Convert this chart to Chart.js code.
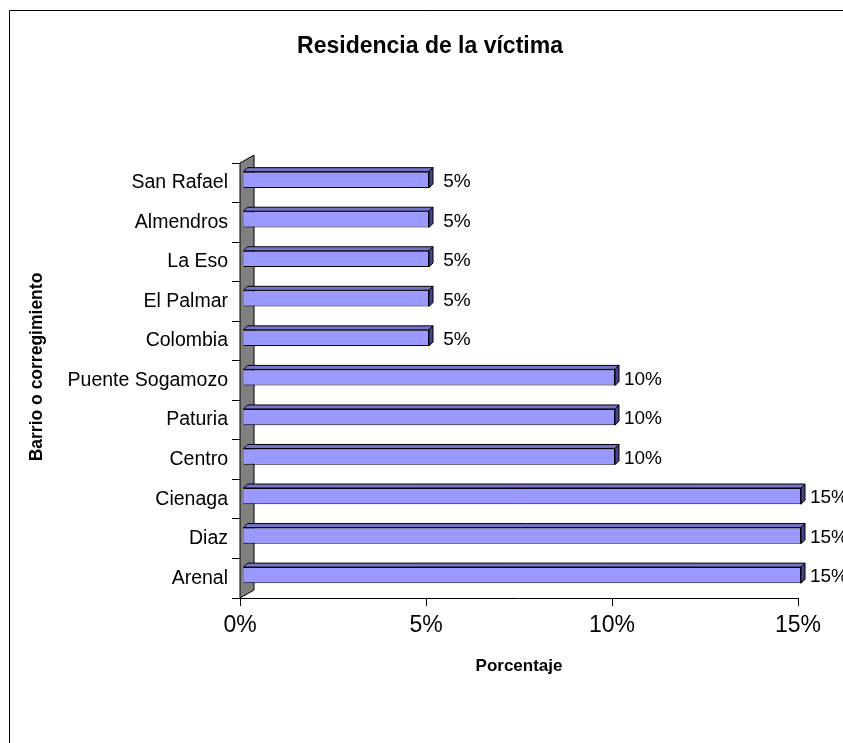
<!DOCTYPE html>
<html lang="es">
<head>
<meta charset="utf-8">
<title>Residencia de la víctima</title>
<script src="https://cdn.jsdelivr.net/npm/chart.js@4.4.1/dist/chart.umd.min.js"></script>
<style>
    html, body { margin: 0; padding: 0; background: #fff; }
    #grafico { display: block; }
</style>
</head>
<body>
<canvas id="grafico" width="843" height="743"></canvas>
<script>
// Datos del gráfico
const barrios = ['San Rafael', 'Almendros', 'La Eso', 'El Palmar', 'Colombia',
    'Puente Sogamozo', 'Paturia', 'Centro', 'Cienaga', 'Diaz', 'Arenal'];
const porcentajes = [5, 5, 5, 5, 5, 10, 10, 10, 15, 15, 15];
const etiquetasX = ['0%', '5%', '10%', '15%'];

const FUENTE = '"Liberation Sans", Arial, sans-serif';
const PROF_BARRA = 4;      // profundidad 3D de las barras
const PARED = { dx: 14, dy: -8 };

// Marco, títulos, pared 3D, caras de las barras y etiquetas
const efecto3D = {
    id: 'efecto3D',
    beforeDraw(chart) {
        const ctx = chart.ctx;
        ctx.save();
        ctx.fillStyle = '#fff';
        ctx.fillRect(0, 0, chart.width, chart.height);
        ctx.strokeStyle = '#000';
        ctx.lineWidth = 1;
        ctx.beginPath();
        ctx.moveTo(9.5, chart.height);
        ctx.lineTo(9.5, 10.5);
        ctx.lineTo(chart.width, 10.5);
        ctx.stroke();

        // Título
        ctx.fillStyle = '#000';
        ctx.font = 'bold 23px ' + FUENTE;
        ctx.textAlign = 'center';
        ctx.textBaseline = 'middle';
        ctx.fillText('Residencia de la víctima', 430, 47);

        // Título del eje vertical
        ctx.translate(37, 367);
        ctx.rotate(-Math.PI / 2);
        ctx.font = 'bold 17.5px ' + FUENTE;
        ctx.fillText('Barrio o corregimiento', 0, 0);
        ctx.restore();
    },
    beforeDatasetsDraw(chart) {
        const ctx = chart.ctx;
        const area = chart.chartArea;
        const x0 = chart.scales.x.getPixelForValue(0);
        ctx.save();
        ctx.fillStyle = '#808080';
        ctx.strokeStyle = '#000';
        ctx.lineWidth = 1;
        ctx.beginPath();
        ctx.moveTo(x0, area.bottom);
        ctx.lineTo(x0 + PARED.dx, area.bottom + PARED.dy);
        ctx.lineTo(x0 + PARED.dx, area.top + PARED.dy);
        ctx.lineTo(x0, area.top);
        ctx.closePath();
        ctx.fill();
        ctx.stroke();
        ctx.restore();

        // Las barras quedan un poco dentro de la profundidad
        ctx.save();
        ctx.translate(3, -3);
    },
    afterDatasetsDraw(chart) {
        const ctx = chart.ctx;
        const meta = chart.getDatasetMeta(0);
        const d = PROF_BARRA;
        ctx.lineWidth = 1;
        ctx.strokeStyle = '#000';
        meta.data.forEach((barra, i) => {
            const { x, y, base, height } = barra.getProps(['x', 'y', 'base', 'height'], true);
            const arriba = y - height / 2;
            const abajo = y + height / 2;

            // Cara superior
            ctx.fillStyle = '#7474C8';
            ctx.beginPath();
            ctx.moveTo(base, arriba);
            ctx.lineTo(x, arriba);
            ctx.lineTo(x + d, arriba - d);
            ctx.lineTo(base + d, arriba - d);
            ctx.closePath();
            ctx.fill();
            ctx.stroke();

            // Cara lateral
            ctx.fillStyle = '#45458C';
            ctx.beginPath();
            ctx.moveTo(x, arriba);
            ctx.lineTo(x + d, arriba - d);
            ctx.lineTo(x + d, abajo - d);
            ctx.lineTo(x, abajo);
            ctx.closePath();
            ctx.fill();
            ctx.stroke();

            // Etiqueta de valor
            ctx.fillStyle = '#000';
            ctx.font = '19px ' + FUENTE;
            ctx.textAlign = 'center';
            ctx.textBaseline = 'middle';
            ctx.fillText(porcentajes[i] + '%', x + 28, y + 2);
        });
        ctx.restore();
    }
};

function initChart() {
    const ctx = document.getElementById('grafico').getContext('2d');
    new Chart(ctx, {
        type: 'bar',
        data: {
            labels: barrios,
            datasets: [{
                label: 'Porcentaje',
                data: porcentajes,
                backgroundColor: '#9999FF',
                borderColor: '#000',
                borderWidth: 1,
                barPercentage: 0.41,
                categoryPercentage: 1,
                clip: false
            }]
        },
        options: {
            indexAxis: 'y',
            responsive: false,
            animation: false,
            layout: {
                padding: { left: 27, right: 45, top: 163, bottom: 66 }
            },
            scales: {
                x: {
                    min: 0,
                    max: 15,
                    afterFit: (escala) => { escala.height = 79; },
                    ticks: {
                        stepSize: 5,
                        color: '#000',
                        padding: 6,
                        font: { family: FUENTE, size: 23 },
                        callback: (valor, indice) => etiquetasX[indice]
                    },
                    grid: {
                        drawOnChartArea: false,
                        color: '#000',
                        tickLength: 8
                    },
                    border: { display: true, color: '#000' },
                    title: {
                        display: true,
                        text: 'Porcentaje',
                        color: '#000',
                        padding: 0,
                        font: { family: FUENTE, size: 17, weight: 'bold' }
                    }
                },
                y: {
                    afterFit: (escala) => { escala.width = 213; },
                    ticks: {
                        color: '#000',
                        padding: 4,
                        font: { family: FUENTE, size: 19.5 }
                    },
                    grid: {
                        drawOnChartArea: false,
                        color: '#000',
                        tickLength: 8
                    },
                    border: { display: false }
                }
            },
            plugins: {
                legend: { display: false },
                tooltip: { enabled: false },
                title: { display: false }
            }
        },
        plugins: [efecto3D]
    });
}

document.addEventListener('DOMContentLoaded', initChart);
</script>
</body>
</html>
